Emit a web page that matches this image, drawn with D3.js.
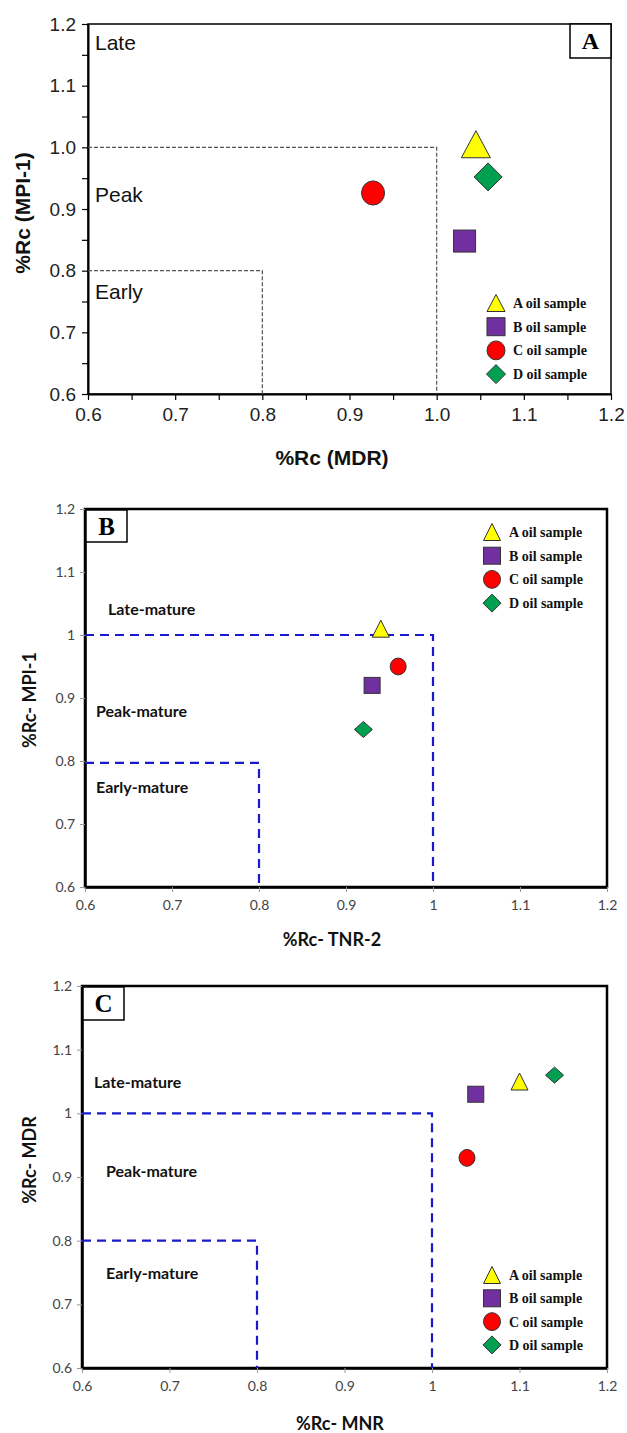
<!DOCTYPE html>
<html><head><meta charset="utf-8">
<script src="https://cdn.jsdelivr.net/npm/d3@7"></script>
<style>body{margin:0;background:#fff}svg{display:block}</style>
</head><body>
<script>
// ---- data ----
const samples = ["A oil sample", "B oil sample", "C oil sample", "D oil sample"];
const panelAx = [1.045, 1.032, 0.927, 1.059];
const panelAy = [1.005, 0.848, 0.926, 0.952];
const panelBx = [0.94, 0.93, 0.96, 0.92];
const panelBy = [1.01, 0.92, 0.95, 0.85];
const panelCx = [1.10, 1.05, 1.04, 1.14];
const panelCy = [1.05, 1.03, 0.93, 1.06];
const majorTicks = [0.6, 0.7, 0.8, 0.9, 1.0, 1.1, 1.2];
const minorTicks = [0.65, 0.75, 0.85, 0.95, 1.05, 1.15];
const tickLabelsA = ["0.6", "0.7", "0.8", "0.9", "1.0", "1.1", "1.2"];
const tickLabelsBC = ["0.6", "0.7", "0.8", "0.9", "1", "1.1", "1.2"];
const zoneLate = 1.0, zoneEarly = 0.8;
const zoneLabelsA = ["Late", "Peak", "Early"];
const zoneLabelsBC = ["Late-mature", "Peak-mature", "Early-mature"];

const fills = ["#FFFF00", "#7030A0", "#FF0000", "#00A050"];
const shapes = ["tri", "sq", "circ", "dia"];

const svg = d3.select("body").append("svg").attr("width", 627).attr("height", 1433);

function marker(g, shape, cx, cy, s, fill, stroke) {
  let p;
  if (shape === "tri") {
    const w = s.tw, h = s.th;
    p = g.append("path").attr("d", `M${cx},${cy - h / 2}L${cx + w / 2},${cy + h / 2}L${cx - w / 2},${cy + h / 2}Z`);
  } else if (shape === "sq") {
    p = g.append("rect").attr("x", cx - s.sq / 2).attr("y", cy - s.sq / 2).attr("width", s.sq).attr("height", s.sq);
  } else if (shape === "circ") {
    p = g.append("ellipse").attr("cx", cx).attr("cy", cy).attr("rx", s.r).attr("ry", s.r * 1.05);
  } else {
    const w = s.dw, h = s.dh;
    p = g.append("path").attr("d", `M${cx},${cy - h / 2}L${cx + w / 2},${cy}L${cx},${cy + h / 2}L${cx - w / 2},${cy}Z`);
  }
  p.attr("fill", fill).attr("stroke", stroke).attr("stroke-width", 1);
}

function drawPanel(cfg) {
  const x = d3.scaleLinear().domain([0.6, 1.2]).range([cfg.left, cfg.right]);
  const y = d3.scaleLinear().domain([0.6, 1.2]).range([cfg.bottom, cfg.top]);
  const g = svg.append("g");

  // frame
  g.append("rect").attr("x", cfg.left).attr("y", cfg.top)
    .attr("width", cfg.right - cfg.left).attr("height", cfg.bottom - cfg.top)
    .attr("fill", "none").attr("stroke", "#000").attr("stroke-width", cfg.frameW);

  // axes
  const xAxis = d3.axisBottom(x).tickValues(majorTicks).tickSize(cfg.tickLen).tickSizeOuter(0)
    .tickFormat((d, i) => cfg.tickLabels[i]).tickPadding(cfg.xPad);
  const yAxis = d3.axisLeft(y).tickValues(majorTicks).tickSize(cfg.tickLen).tickSizeOuter(0)
    .tickFormat((d, i) => cfg.tickLabels[i]).tickPadding(cfg.yPad);
  const gx = g.append("g").attr("transform", `translate(0,${cfg.bottom})`).call(xAxis);
  const gy = g.append("g").attr("transform", `translate(${cfg.left},0)`).call(yAxis);
  [gx, gy].forEach(a => {
    a.select(".domain").attr("stroke", "#000").attr("stroke-width", cfg.axisW);
    a.selectAll(".tick line").attr("stroke", cfg.tickColorLine).attr("stroke-width", cfg.tickW);
    a.selectAll(".tick text").attr("font-family", cfg.tickFont).attr("font-size", cfg.tickSize)
      .attr("fill", cfg.tickColor);
  });
  if (cfg.minor) {
    g.append("g").attr("transform", `translate(0,${cfg.bottom})`)
      .call(d3.axisBottom(x).tickValues(minorTicks).tickSize(cfg.tickLen).tickFormat(""))
      .call(a => { a.select(".domain").remove(); a.selectAll("line").attr("stroke-width", cfg.tickW); });
    g.append("g").attr("transform", `translate(${cfg.left},0)`)
      .call(d3.axisLeft(y).tickValues(minorTicks).tickSize(cfg.tickLen).tickFormat(""))
      .call(a => { a.select(".domain").remove(); a.selectAll("line").attr("stroke-width", cfg.tickW); });
  }

  // zone dashed lines
  const dl = g.append("g").attr("fill", "none").attr("stroke", cfg.dashColor)
    .attr("stroke-width", cfg.dashW).attr("stroke-dasharray", cfg.dash);
  dl.append("path").attr("d", `M${x(0.6)},${y(cfg.lateY)}L${x(zoneLate)},${y(cfg.lateY)}L${x(zoneLate)},${y(0.6)}`);
  dl.append("path").attr("d", `M${x(0.6)},${y(cfg.earlyY)}L${x(zoneEarly)},${y(cfg.earlyY)}L${x(zoneEarly)},${y(0.6)}`);

  // zone labels
  cfg.zoneLabels.forEach((t, i) => {
    g.append("text").attr("x", cfg.zonePos[i][0]).attr("y", cfg.zonePos[i][1])
      .attr("font-family", cfg.zoneFont).attr("font-size", cfg.zoneSize)
      .attr("font-weight", cfg.zoneWeight).attr("fill", "#111").text(t);
  });

  // panel letter box
  g.append("rect").attr("x", cfg.box[0]).attr("y", cfg.box[1]).attr("width", cfg.box[2]).attr("height", cfg.box[3])
    .attr("fill", "#fff").attr("stroke", "#000").attr("stroke-width", 1.5);
  g.append("text").attr("x", cfg.box[0] + cfg.box[2] / 2).attr("y", cfg.box[1] + cfg.box[3] / 2 + cfg.letterSize * 0.34)
    .attr("text-anchor", "middle").attr("font-family", "Liberation Serif, serif").attr("font-weight", "bold")
    .attr("font-size", cfg.letterSize).text(cfg.letter);

  // points
  cfg.xs.forEach((v, i) => {
    marker(g, shapes[i], x(v), y(cfg.ys[i]), cfg.ms, fills[i], "#333");
  });

  // legend
  samples.forEach((s, i) => {
    const ly = cfg.legY + i * cfg.legStep;
    marker(g, shapes[i], cfg.legX, ly, cfg.lms, fills[i], "#333");
    g.append("text").attr("x", cfg.legX + 17).attr("y", ly + 5)
      .attr("font-family", "Liberation Serif, serif").attr("font-weight", "bold")
      .attr("font-size", 14).attr("fill", "#111").text(s);
  });

  // axis titles
  g.append("text").attr("x", cfg.xTitle[0]).attr("y", cfg.xTitle[1]).attr("text-anchor", "middle")
    .attr("font-family", cfg.titleFont).attr("font-weight", "bold").attr("font-size", cfg.titleSize)
    .attr("fill", "#111").text(cfg.xLabel);
  g.append("text").attr("transform", `translate(${cfg.yTitle[0]},${cfg.yTitle[1]}) rotate(-90)`)
    .attr("text-anchor", "middle")
    .attr("font-family", cfg.titleFont).attr("font-weight", "bold").attr("font-size", cfg.titleSize)
    .attr("fill", "#111").text(cfg.yLabel);
}

const markSmall = {tw: 17, th: 17, sq: 16, r: 8, dw: 18, dh: 16};
const legSmall = {tw: 17, th: 17, sq: 17, r: 8.5, dw: 18, dh: 18};

drawPanel({
  left: 88, right: 611, top: 24, bottom: 394,
  frameW: 1.5, axisW: 2, tickLen: 6, tickW: 1.2, minor: true, xPad: 8, yPad: 6,
  tickLabels: tickLabelsA, tickFont: "Liberation Sans, Arial, sans-serif", tickSize: 19, tickColor: "#222", tickColorLine: "#000",
  dashColor: "#555", dashW: 1.2, dash: "4,2", lateY: 1.0, earlyY: 0.8,
  zoneLabels: zoneLabelsA, zonePos: [[95, 50], [95, 202], [95, 299]],
  zoneFont: "Liberation Sans, Arial, sans-serif", zoneSize: 21, zoneWeight: "normal",
  box: [570, 24, 41, 34], letter: "A", letterSize: 24,
  xs: panelAx, ys: panelAy,
  ms: {tw: 29, th: 27, sq: 22, r: 11.5, dw: 28, dh: 28},
  lms: {tw: 18, th: 17, sq: 18, r: 9, dw: 19, dh: 19},
  legX: 496, legY: 303, legStep: 23.7,
  titleFont: "Liberation Sans, Arial, sans-serif", titleSize: 21,
  xLabel: "%Rc (MDR)", yLabel: "%Rc (MPI-1)", xTitle: [332, 465], yTitle: [30, 213]
});

drawPanel({
  left: 85, right: 607, top: 509, bottom: 887,
  frameW: 2.5, axisW: 2.5, tickLen: 5, tickW: 1, minor: false, xPad: 8, yPad: 5,
  tickLabels: tickLabelsBC, tickFont: "Lato, Open Sans, sans-serif", tickSize: 14, tickColor: "#444", tickColorLine: "#999",
  dashColor: "#1a1acc", dashW: 2.2, dash: "9,6", lateY: 1.0, earlyY: 0.797,
  zoneLabels: zoneLabelsBC, zonePos: [[108, 615], [96, 717], [96, 793]],
  zoneFont: "Lato, sans-serif", zoneSize: 16, zoneWeight: "bold",
  box: [86, 510, 41, 32], letter: "B", letterSize: 25,
  xs: panelBx, ys: panelBy, ms: markSmall, lms: legSmall,
  legX: 492, legY: 532, legStep: 23.7,
  titleFont: "Lato, sans-serif", titleSize: 18,
  xLabel: "%Rc- TNR-2", yLabel: "%Rc- MPI-1", xTitle: [332, 946], yTitle: [36, 700]
});

drawPanel({
  left: 82, right: 607, top: 986, bottom: 1368,
  frameW: 2.5, axisW: 2.5, tickLen: 5, tickW: 1, minor: false, xPad: 8, yPad: 5,
  tickLabels: tickLabelsBC, tickFont: "Lato, Open Sans, sans-serif", tickSize: 14, tickColor: "#444", tickColorLine: "#999",
  dashColor: "#1a1acc", dashW: 2.2, dash: "9,6", lateY: 1.0, earlyY: 0.8,
  zoneLabels: zoneLabelsBC, zonePos: [[94, 1088], [106, 1177], [106, 1279]],
  zoneFont: "Lato, sans-serif", zoneSize: 16, zoneWeight: "bold",
  box: [83, 987, 41, 33], letter: "C", letterSize: 25,
  xs: panelCx, ys: panelCy, ms: markSmall, lms: legSmall,
  legX: 492, legY: 1275, legStep: 23.3,
  titleFont: "Lato, sans-serif", titleSize: 18,
  xLabel: "%Rc- MNR", yLabel: "%Rc- MDR", xTitle: [340, 1430], yTitle: [36, 1160]
});
</script>
</body></html>
